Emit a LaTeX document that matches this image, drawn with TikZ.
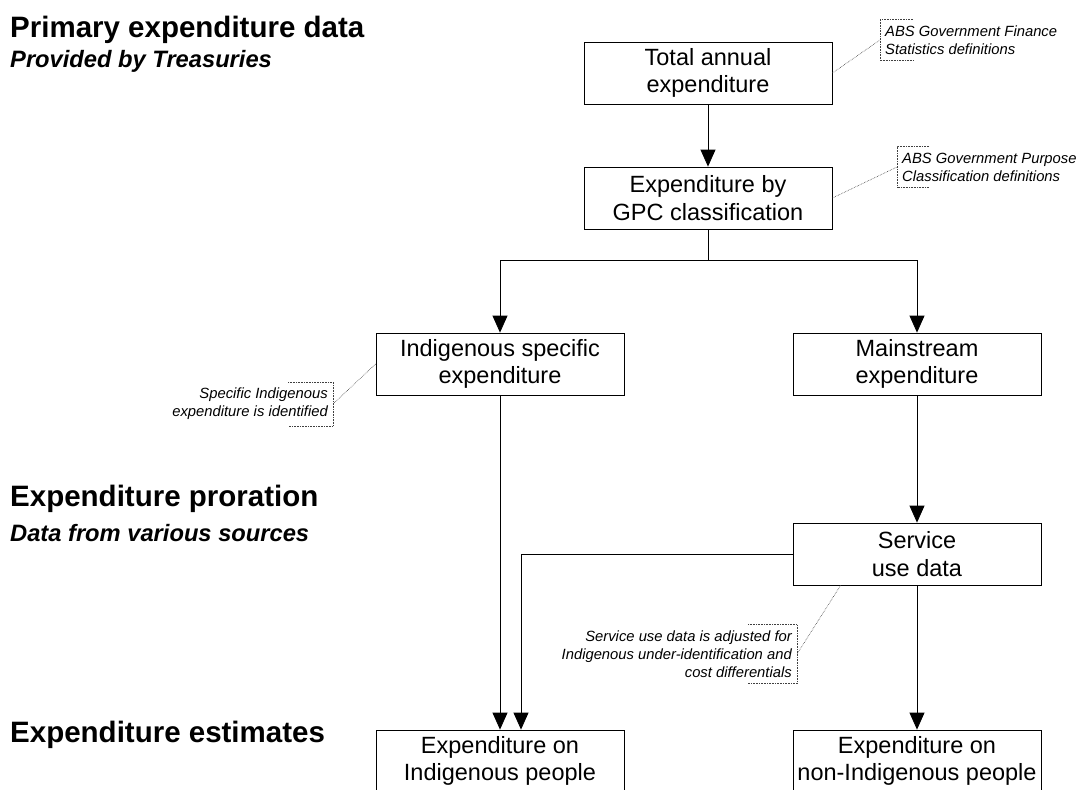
\documentclass[tikz,border=0pt]{standalone}
\usepackage{fontspec}
\setmainfont{Liberation Sans}
\usetikzlibrary{arrows.meta,positioning}

\begin{document}
\begin{tikzpicture}[x=1pt, y=-1pt,
        box/.style={draw, line width=0.8pt, minimum width=248pt, minimum height=62pt,
            align=center, inner sep=0pt, font=\fontsize{23.5}{27.5}\selectfont},
        arr/.style={line width=0.8pt, -{Triangle[length=17pt, width=15pt]}},
        link/.style={line width=0.8pt},
        note/.style={font=\fontsize{14.8}{18}\itshape, inner xsep=5pt, inner ysep=6pt},
        noteline/.style={densely dotted, line width=0.6pt, black!75},
        heading/.style={anchor=base west, inner sep=0pt, font=\fontsize{29.5}{34}\bfseries},
        subheading/.style={anchor=base west, inner sep=0pt, font=\fontsize{23.7}{27}\bfseries\itshape}]
    \clip (0,0) rectangle (1077,790);

    % stage headings
    \node[heading] (primary) at (10,37) {Primary expenditure data};
    \node[subheading] (treasury) at (10,67) {Provided by Treasuries};
    \node[heading] (proration) at (10,506) {Expenditure proration};
    \node[subheading] (sources) at (10,541) {Data from various sources};
    \node[heading] (estimates) at (10,742) {Expenditure estimates};

    % boxes
    \node[box] (total) at (708,73) {Total annual\\expenditure};
    \node[box] (gpc) at (708,198) {Expenditure by\\GPC classification};
    \node[box] (indspec) at (500,364) {Indigenous specific\\expenditure};
    \node[box] (mainstr) at (917,364) {Mainstream\\expenditure};
    \node[box] (service) at (917,554) {Service\\use data};
    \node[box] (expind) at (500,761) {Expenditure on\\Indigenous people};
    \node[box] (expnon) at (917,761) {Expenditure on\\non-Indigenous people};

    % flow
    \coordinate (split) at (708,260);
    \draw[arr] (total) -- (gpc);
    \draw[link] (gpc) -- (split);
    \draw[arr] (split) -| (indspec);
    \draw[arr] (split) -| (mainstr);
    \draw[arr] (indspec) -- (expind);
    \draw[arr] (mainstr) -- (service);
    \draw[arr] (service.west) -| ([xshift=21pt]expind.north);
    \draw[arr] (service) -- (expnon);

    % notes
    \node[note, anchor=west, align=left] (gfsnote) at (880,40)
        {ABS Government Finance\\Statistics definitions};
    \node[note, anchor=west, align=left] (gpcnote) at (897,167)
        {ABS Government Purpose\\Classification definitions};
    \node[note, anchor=east, align=right] (specnote) at (333,404)
        {Specific Indigenous\\expenditure is identified};
    \node[note, anchor=east, align=right] (adjnote) at (797,654)
        {Service use data is adjusted for\\Indigenous under-identification and\\cost differentials};

    \draw[noteline] ([xshift=33pt]gfsnote.north west) -- (gfsnote.north west)
        -- (gfsnote.south west) -- ++(33,0);
    \draw[noteline] ([xshift=32pt]gpcnote.north west) -- (gpcnote.north west)
        -- (gpcnote.south west) -- ++(32,0);
    \draw[noteline] ([xshift=-45pt]specnote.north east) -- (specnote.north east)
        -- (specnote.south east) -- ++(-45,0);
    \draw[noteline] ([xshift=-49pt]adjnote.north east) -- (adjnote.north east)
        -- (adjnote.south east) -- ++(-49,0);

    \draw[noteline] (total.east) -- (gfsnote.west);
    \draw[noteline] (gpc.east) -- (gpcnote.west);
    \draw[noteline] (indspec.west) -- (specnote.east);
    \draw[noteline] ([xshift=48pt]service.south west) -- (adjnote.east);
\end{tikzpicture}
\end{document}
